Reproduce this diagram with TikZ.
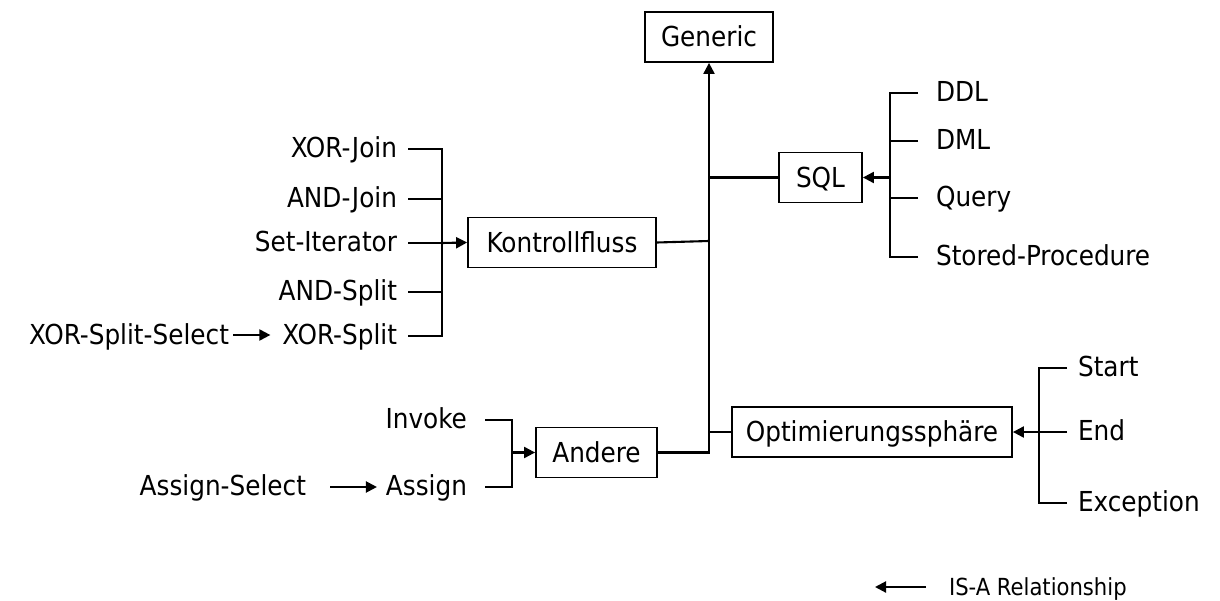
\documentclass[tikz,border=0pt]{standalone}
\usepackage{fontspec}
\setmainfont{DejaVu Sans Condensed}
\usetikzlibrary{arrows.meta}
\begin{document}
\begin{tikzpicture}[x=1pt,y=-1pt,
  line width=2.1pt,
  isa/.style={-{Triangle[length=11pt,width=11pt]}},
  box/.style={draw, line width=1.8pt, inner sep=0pt, minimum height=50pt, font=\fontsize{27.5}{30}\selectfont,
              text height=19.5pt, text depth=0pt},
  lbl/.style={inner sep=0pt, font=\fontsize{27.5}{30}\selectfont, text height=19.5pt, text depth=0pt},
  legend/.style={inner sep=0pt, font=\fontsize{23.5}{26}\selectfont, text height=16.5pt, text depth=0pt}]
\useasboundingbox (0,0) rectangle (1220,601);

% central classes
\node[box, minimum width=128pt] (generic) at (709,37) {Generic};
\node[box, minimum width=83pt]  (sql)     at (820.5,177.5) {SQL};
\node[box, minimum width=188pt] (kf)      at (562,242.5) {Kontrollfluss};
\node[box, minimum width=121pt] (andere)  at (596.5,452.5) {Andere};
\node[box, minimum width=280pt] (opt)     at (872,432) {Optimierungssphäre};

% trunk to Generic
\coordinate (trunk) at (709,452.5);
\draw[isa] (andere.east) -- (trunk) -- (generic.south);
\draw (sql.west) -- (709,177.5);
\draw (kf.east) -- (709,241);
\draw (opt.west) -- (709,432);

% control-flow subclasses
\node[lbl, anchor=east] (xj) at (398,148) {XOR-Join};
\node[lbl, anchor=east] (aj) at (398,198) {AND-Join};
\node[lbl, anchor=east] (si) at (398,242) {Set-Iterator};
\node[lbl, anchor=east] (as) at (398,291) {AND-Split};
\node[lbl, anchor=east] (xs) at (398,335) {XOR-Split};
\node[lbl, anchor=east] (xss) at (230,335) {XOR-Split-Select};
\coordinate (kfb) at (442,243);
\draw ([xshift=10pt,yshift=-1pt]xj.east) -| (kfb);
\draw ([xshift=10pt,yshift=-1pt]xs.east) -| (kfb);
\draw ([xshift=10pt,yshift=-1pt]aj.east) -- (442,199);
\draw ([xshift=10pt,yshift=-1pt]as.east) -- (442,292);
\draw ([xshift=10pt,yshift=-1pt]si.east) -- (kfb);
\draw[isa] (kfb) -- (kf.west);
\draw[isa] ([xshift=3pt]xss.east) -- ([xshift=-11pt]xs.west);

% other subclasses
\node[lbl, anchor=east] (inv) at (468,419) {Invoke};
\node[lbl, anchor=east] (asg) at (468,486) {Assign};
\node[lbl, anchor=east] (asel) at (307,486) {Assign-Select};
\coordinate (anb) at (512,452.5);
\draw ([xshift=17pt,yshift=-1pt]inv.east) -| (anb);
\draw ([xshift=17pt,yshift=-1pt]asg.east) -| (anb);
\draw[isa] (anb) -- (andere.west);
\draw[isa] ([xshift=23pt,yshift=-1pt]asel.east) -- ([xshift=-8pt,yshift=-1pt]asg.west);

% SQL subclasses
\node[lbl, anchor=west] (ddl) at (935,92) {DDL};
\node[lbl, anchor=west] (dml) at (935,140) {DML};
\node[lbl, anchor=west] (qry) at (935,197) {Query};
\node[lbl, anchor=west] (sp)  at (935,256) {Stored-Procedure};
\coordinate (sqb) at (890,177.5);
\draw ([xshift=-17pt,yshift=-1pt]ddl.west) -| (sqb);
\draw ([xshift=-17pt,yshift=-1pt]sp.west) -| (sqb);
\draw ([xshift=-17pt,yshift=-1pt]dml.west) -- (890,141);
\draw ([xshift=-17pt,yshift=-1pt]qry.west) -- (890,198);
\draw[isa] (sqb) -- (sql.east);

% optimisation-sphere subclasses
\node[lbl, anchor=west] (st)  at (1077,367) {Start};
\node[lbl, anchor=west] (en)  at (1077,431) {End};
\node[lbl, anchor=west] (exc) at (1077,502) {Exception};
\coordinate (opb) at (1039,432);
\draw ([xshift=-10pt,yshift=-1pt]st.west) -| (opb);
\draw ([xshift=-10pt,yshift=-1pt]exc.west) -| (opb);
\draw ([xshift=-10pt,yshift=-1pt]en.west) -- (opb);
\draw[isa] (opb) -- (opt.east);

% legend
\node[legend, anchor=west] (leg) at (948,587) {IS-A Relationship};
\coordinate (legtail) at (926,587);
\draw[isa] (legtail) -- (875,587);
\end{tikzpicture}
\end{document}
